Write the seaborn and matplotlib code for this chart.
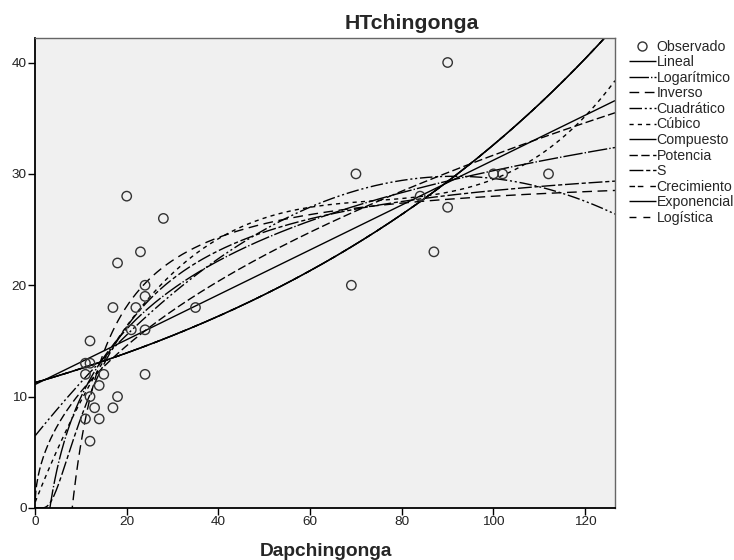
import numpy as np
import pandas as pd
import matplotlib
matplotlib.use("Agg")
import matplotlib.pyplot as plt
import seaborn as sns
from matplotlib.lines import Line2D

sns.set_theme(style="white")
plt.rcParams['font.family'] = ['Liberation Sans', 'DejaVu Sans']

dap = [12, 11, 14, 13, 17, 12, 18, 14, 11, 15, 24, 11, 12, 12, 21, 24, 17, 22, 35,
       24, 24, 18, 23, 28, 20, 69, 70, 84, 87, 90, 90, 100, 102, 112]
ht = [6, 8, 8, 9, 9, 10, 10, 11, 12, 12, 12, 13, 13, 15, 16, 16, 18, 18, 18,
      19, 20, 22, 23, 26, 28, 20, 30, 28, 23, 27, 40, 30, 30, 30]

models = ["Lineal", "Logarítmico", "Inverso", "Cuadrático", "Cúbico", "Compuesto",
          "Potencia", "S", "Crecimiento", "Exponencial", "Logística"]
styles = {
    "Lineal": (0, ()),
    "Logarítmico": (0, (14, 1.5, 1, 1.5)),
    "Inverso": (0, (7, 4)),
    "Cuadrático": (0, (9, 2, 1.5, 2, 1.5, 2)),
    "Cúbico": (0, (3, 3)),
    "Compuesto": (0, ()),
    "Potencia": (0, (6, 2.5)),
    "S": (0, (10, 2, 3, 2)),
    "Crecimiento": (0, (4, 2, 4, 5)),
    "Exponencial": (0, ()),
    "Logística": (0, (5, 5)),
}

x = np.array(dap, dtype=float)
y = np.array(ht, dtype=float)
xs = np.linspace(0.05, 126.5, 800)

lin = np.polyfit(x, y, 1)
lg = np.polyfit(np.log(x), y, 1)
inv = np.polyfit(1 / x, y, 1)
quad = np.polyfit(x, y, 2)
cub = np.polyfit(x, y, 3)
expo = np.polyfit(x, np.log(y), 1)
pw = np.polyfit(np.log(x), np.log(y), 1)
sc = np.polyfit(1 / x, np.log(y), 1)

curves = {
    "Lineal": np.polyval(lin, xs),
    "Logarítmico": np.polyval(lg, np.log(xs)),
    "Inverso": np.polyval(inv, 1 / xs),
    "Cuadrático": np.polyval(quad, xs),
    "Cúbico": np.polyval(cub, xs),
    "Compuesto": np.exp(np.polyval(expo, xs)),
    "Potencia": np.exp(np.polyval(pw, np.log(xs))),
    "S": np.exp(np.clip(np.polyval(sc, 1 / xs), -50, 50)),
    "Crecimiento": np.exp(np.polyval(expo, xs)),
    "Exponencial": np.exp(np.polyval(expo, xs)),
    "Logística": np.exp(np.polyval(expo, xs)),
}

fig = plt.figure(figsize=(7.34, 5.6), dpi=100)
ax = fig.add_axes([35 / 734, 52 / 560, 580 / 734, 470 / 560])
ax.set_facecolor("#f0f0f0")

for m in models:
    yy = curves[m].copy()
    yy[(yy < -5) | (yy > 60)] = np.nan
    df = pd.DataFrame({"x": xs, "y": yy})
    sns.lineplot(data=df, x="x", y="y", ax=ax, color="black", lw=1.0,
                 linestyle=styles[m], sort=False, estimator=None)

sns.scatterplot(x=dap, y=ht, ax=ax, marker="o", s=46, facecolor="none",
                edgecolor="#333333", linewidth=1.0, zorder=5)

ax.set_xlim(0, 126.5)
ax.set_ylim(0, 42.2)
ax.set_xticks([0, 20, 40, 60, 80, 100, 120])
ax.set_yticks([0, 10, 20, 30, 40])
ax.tick_params(axis="both", direction="out", length=5, width=1, labelsize=9.7,
               colors="black", labelcolor="#222222", pad=1, bottom=True, left=True)
ax.set_xlabel("")
ax.set_ylabel("")
for s in ["left", "bottom"]:
    ax.spines[s].set_color("black")
    ax.spines[s].set_linewidth(1.3)
for s in ["top", "right"]:
    ax.spines[s].set_color("#666666")
    ax.spines[s].set_linewidth(1.0)

fig.text(412 / 734, 1 - 29 / 560, "HTchingonga", ha="center", va="baseline",
         fontsize=15.3, fontweight="bold")
fig.text(326 / 734, 1 - 556 / 560, "Dapchingonga", ha="center", va="baseline",
         fontsize=13.8, fontweight="bold")

handles = [Line2D([], [], marker="o", linestyle="none", markerfacecolor="none",
                  markeredgecolor="#333333", markersize=6.5)]
labels = ["Observado"]
for m in models:
    handles.append(Line2D([], [], color="black", lw=1.0, linestyle=styles[m]))
    labels.append(m)
leg = fig.legend(handles, labels, loc="upper left",
                 bbox_to_anchor=(623 / 734, 1 - 34 / 560), frameon=False,
                 fontsize=10.2, handlelength=1.9, handletextpad=0.08,
                 labelspacing=0.11, borderaxespad=0)

fig.savefig("out.png", dpi=100, facecolor="white")
